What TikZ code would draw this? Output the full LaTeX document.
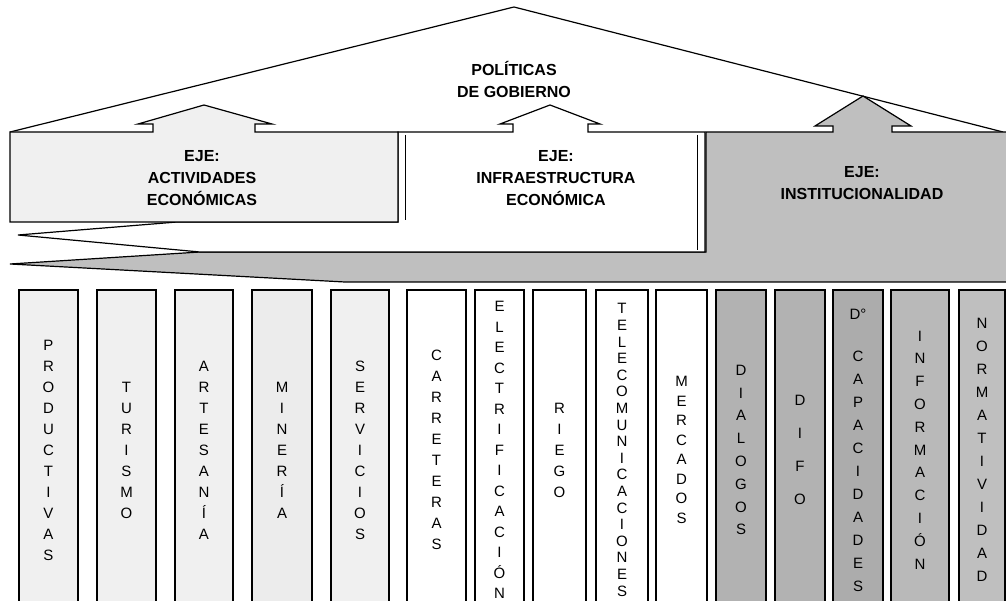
\documentclass[tikz,border=0pt]{standalone}
\usepackage{fontspec}
\setmainfont{Liberation Sans}

\tikzset{
  borde/.style={draw, line width=1.2pt, line join=miter},
  columna/.style={borde, minimum height=320, inner sep=0pt, align=center,
    font=\fontsize{15}{#1}\selectfont},
  columna/.default=21,
  eje/.style={align=center, font=\bfseries\fontsize{16}{22}\selectfont},
}

\begin{document}
\begin{tikzpicture}[x=1pt, y=-1pt]
		%%%%% START %%%%%
		\useasboundingbox (0,0) rectangle (1006,601);
		\clip (0,0) rectangle (1006,601);
		
		% techo
		\draw[borde, fill=white] (10,132) -- (514,7) -- (1003,132);
		
		% eje institucionalidad, con su cuña
		\draw[borde, fill=gray!50] (706,132) -- (833,132) -- (833,126) -- (815,126) -- (863,96)
			-- (911,126) -- (892,126) -- (892,132) -- (1010,132) -- (1010,282) -- (345,282)
			-- (10,264) -- (200,252) -- (706,252) -- cycle;
		
		% eje infraestructura, con su cuña
		\draw[borde, fill=white] (398,132) -- (513,132) -- (513,124) -- (500,124) -- (550,105)
			-- (600,124) -- (588,124) -- (588,132) -- (705,132) -- (705,252) -- (200,252)
			-- (18,235) -- (177,222) -- (398,222) -- cycle;
		\draw[line width=0.8pt] (405,135) -- (405,220);
		\draw[line width=0.8pt] (697,135) -- (697,250);
		
		% eje actividades
		\draw[borde, fill=gray!12] (10,132) -- (153,132) -- (153,124) -- (138,124) -- (204,105)
			-- (272,124) -- (255,124) -- (255,132) -- (398,132) -- (398,222) -- (10,222) -- cycle;
		
		\node[eje] (politicas) at (514,79) {POLÍTICAS\\DE GOBIERNO};
		\node[eje] (actividades) at (202,178) {EJE:\\ACTIVIDADES\\ECONÓMICAS};
		\node[eje] (infraestructura) at (556,178) {EJE:\\INFRAESTRUCTURA\\ECONÓMICA};
		\node[eje] (institucionalidad) at (862,183) {EJE:\\INSTITUCIONALIDAD};
		
		% columnas
		\node[columna, fill=gray!12, minimum width=59] (productivas) at (48.5,450) {P\\R\\O\\D\\U\\C\\T\\I\\V\\A\\S};
		\node[columna, fill=gray!12, minimum width=59] (turismo) at (126.5,450) {T\\U\\R\\I\\S\\M\\O};
		\node[columna, fill=gray!12, minimum width=58] (artesania) at (204,450) {A\\R\\T\\E\\S\\A\\N\\Í\\A};
		\node[columna, fill=gray!15, minimum width=60] (mineria) at (282,450) {M\\I\\N\\E\\R\\Í\\A};
		\node[columna, fill=gray!12, minimum width=58] (servicios) at (360,450) {S\\E\\R\\V\\I\\C\\I\\O\\S};
		
		\node[columna, fill=white, minimum width=59] (carreteras) at (436.5,450) {C\\A\\R\\R\\E\\T\\E\\R\\A\\S};
		\node[columna=20.5, fill=white, minimum width=49] (electrificacion) at (499.5,450) {E\\L\\E\\C\\T\\R\\I\\F\\I\\C\\A\\C\\I\\Ó\\N};
		\node[columna, fill=white, minimum width=53] (riego) at (559.5,450) {R\\I\\E\\G\\O};
		\node[columna=16.6, fill=white, minimum width=52] (telecomunicaciones) at (622,450) {T\\E\\L\\E\\C\\O\\M\\U\\N\\I\\C\\A\\C\\I\\O\\N\\E\\S};
		\node[columna=19.5, fill=white, minimum width=51] (mercados) at (681.5,450) {M\\E\\R\\C\\A\\D\\O\\S};
		
		\node[columna=22.8, fill=gray!60, minimum width=50] (dialogos) at (741,450) {D\\I\\A\\L\\O\\G\\O\\S};
		\node[columna=33, fill=gray!60, minimum width=50] (difo) at (800,450) {D\\I\\F\\O};
		\node[columna=23, fill=gray!65, minimum width=50] (capacidades) at (858,450) {D°\\[19pt]C\\A\\P\\A\\C\\I\\D\\A\\D\\E\\S};
		\node[columna=22.8, fill=gray!55, minimum width=58] (informacion) at (920,450) {I\\N\\F\\O\\R\\M\\A\\C\\I\\Ó\\N};
		\node[columna=23, fill=gray!50, minimum width=46] (normatividad) at (982,450) {N\\O\\R\\M\\A\\T\\I\\V\\I\\D\\A\\D};
		
		%%%%% END %%%%%
\end{tikzpicture}
\end{document}
